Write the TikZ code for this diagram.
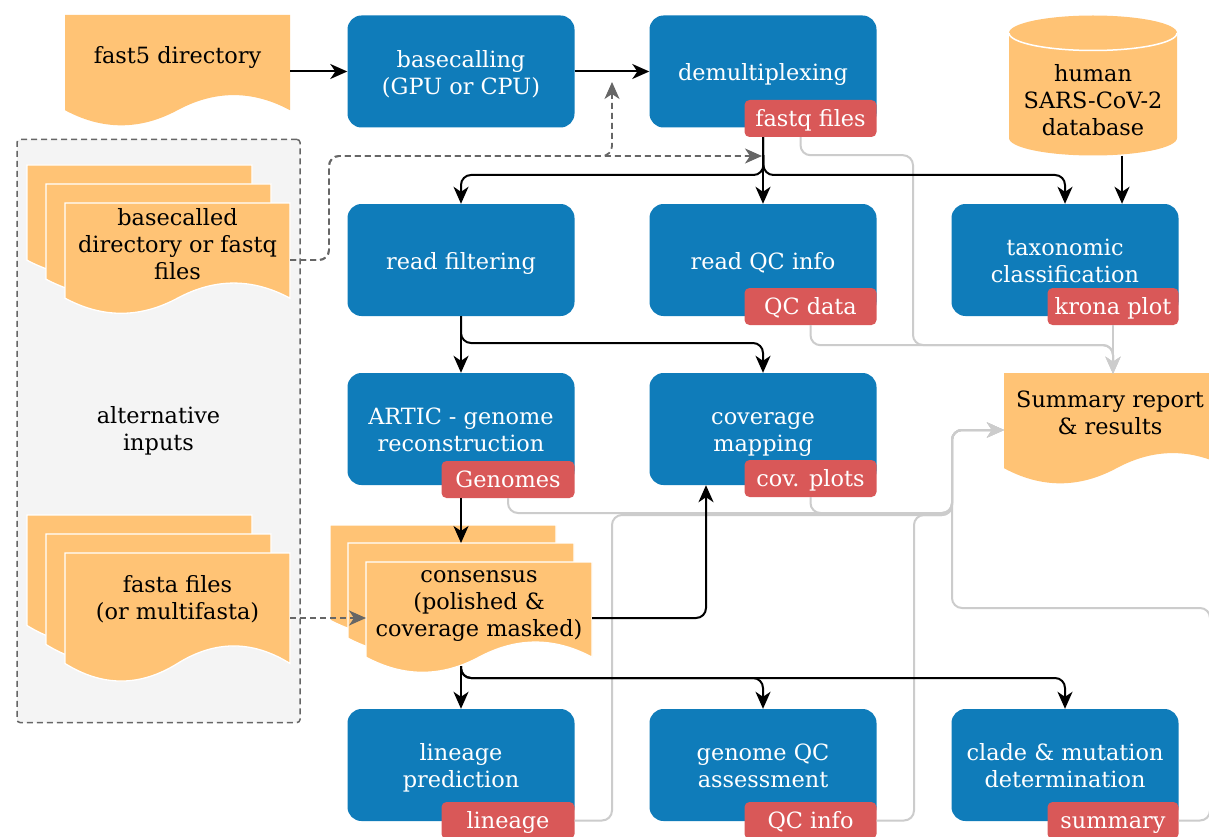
\documentclass[tikz,border=0pt]{standalone}
\usepackage{fontspec}
\setmainfont{DejaVu Serif}
\usetikzlibrary{arrows.meta,calc}
\definecolor{boxblue}{HTML}{0F7CBA}
\definecolor{tagred}{HTML}{D95858}
\definecolor{docorange}{HTML}{FFC375}
\definecolor{panelgray}{HTML}{F4F4F4}
\definecolor{linegray}{HTML}{CCCCCC}
\definecolor{dashgray}{HTML}{666666}
\newcommand\docpage[5][]{%
  \path[fill=docorange,#1] (#2,#3) -- (#2+#4,#3) -- (#2+#4,#3+0.85*#5)
    .. controls (#2+0.8333*#4,#3+0.67*#5) and (#2+0.6667*#4,#3+0.67*#5) .. (#2+0.5*#4,#3+0.85*#5)
    .. controls (#2+0.3333*#4,#3+1.03*#5) and (#2+0.1667*#4,#3+1.03*#5) .. (#2,#3+0.85*#5) -- cycle;}
\newcommand\mlines[1]{\raisebox{-4pt}[\height][\depth]{\begin{tabular}{@{}c@{}}#1\end{tabular}}}
\tikzset{
  every node/.style={font=\fontsize{22.4}{27}\selectfont},
  proc/.style={fill=boxblue, rounded corners=14pt, minimum width=227pt, minimum height=112pt, inner sep=0pt, text=white, align=center},
  tag/.style={fill=tagred, rounded corners=5pt, minimum width=132pt, minimum height=37pt, inner sep=0pt, text=white, anchor=south east, text height=19pt, text depth=3pt},
  doctext/.style={inner sep=0pt, align=center, text=black},
  tip/.style={-{Stealth[length=17pt,width=15pt,inset=5pt]}},
  arr/.style={draw=black, line width=2pt, tip},
  garr/.style={draw=linegray, line width=2pt, rounded corners=10pt, tip},
  darr/.style={draw=dashgray, line width=1.8pt, dash pattern=on 6pt off 4pt, tip},
  stacked/.style={draw=white, line width=1.3pt},
}
\begin{document}
\begin{tikzpicture}[x=1pt, y=-1pt]
\path[use as bounding box, clip] (0,0) rectangle (1209,837);
\fill[white] (0,0) rectangle (1209,837);

% alternative inputs panel
\node[draw=dashgray, line width=1.5pt, dash pattern=on 6pt off 4pt, fill=panelgray, rounded corners=3pt,
      minimum width=283pt, minimum height=583pt, align=center, inner sep=0pt] (alt) at (158.5,431) {alternative\\inputs};

% document shapes
\docpage{65}{15}{225}{112}
\node[doctext, minimum width=225pt, minimum height=80pt] (fast5) at (177.5,57) {fast5 directory};

\docpage[stacked]{27}{165}{225}{112}
\docpage[stacked]{46}{184}{225}{112}
\docpage[stacked]{65}{203}{225}{112}
\node[doctext, minimum width=225pt] (bcd) at (177.5,244) {basecalled\\directory or fastq\\files};

\docpage[stacked]{27}{515}{225}{130}
\docpage[stacked]{46}{534}{225}{130}
\docpage[stacked]{65}{553}{225}{130}
\node[doctext, minimum width=225pt] (fst) at (177.5,599) {fasta files\\(or multifasta)};

\docpage[stacked]{330}{525}{226}{112}
\docpage[stacked]{348}{543}{226}{112}
\docpage[stacked]{366}{562}{226}{112}
\node[doctext, minimum width=226pt] (cons) at (479,606) {consensus\\(polished \&\\coverage masked)};
\coordinate (consmid) at (461,543);
\coordinate (consbot) at (461,666);
\coordinate (split3) at (461,678);

\docpage{1004}{373}{225}{112}
\node[doctext, minimum width=212pt, minimum height=78pt] (summ) at (1110,413) {Summary report\\\& results};
\coordinate (summin) at (1004,430);

% database cylinder
\fill[docorange] (1009,33) -- (1009,138) arc[start angle=180, end angle=0, x radius=84, y radius=17.5]
  -- (1177,33) arc[start angle=0, end angle=-180, x radius=84, y radius=17.5] -- cycle;
\draw[white, line width=1.5pt] (1009,33) arc[start angle=180, end angle=0, x radius=84, y radius=17.5];
\node[doctext, minimum width=168pt, minimum height=110pt] (db) at (1093,100.5) {human\\SARS-CoV-2\\database};

% process boxes
\node[proc] (basecall) at (461,71.5) {\mlines{basecalling\\(GPU or CPU)}};
\node[proc] (demux) at (763,71.5) {\mlines{demultiplexing}};
\node[proc] (readfilt) at (461,260) {\mlines{read filtering}};
\node[proc] (readqc) at (763,260) {\mlines{read QC info}};
\node[proc] (taxo) at (1065,260) {\mlines{taxonomic\\classification}};
\node[proc] (artic) at (461,429) {\mlines{ARTIC - genome\\reconstruction}};
\node[proc] (covmap) at (763,429) {\mlines{coverage\\mapping}};
\node[proc] (lineage) at (461,765) {\mlines{lineage\\prediction}};
\node[proc] (gqc) at (763,765) {\mlines{genome QC\\assessment}};
\node[proc] (clade) at (1065,765) {\mlines{clade \& mutation\\determination}};

% tags
\node[tag] (fqtag) at ([yshift=-9.5pt]demux.south east) {fastq files};
\node[tag] (qctag) at ([yshift=-9pt]readqc.south east) {QC data};
\node[tag, minimum width=131pt] (kronatag) at ([yshift=-9pt]taxo.south east) {krona plot};
\node[tag, minimum width=133pt] (gentag) at ([yshift=-13pt]artic.south east) {Genomes};
\node[tag] (covtag) at ([yshift=-12pt]covmap.south east) {cov. plots};
\node[tag, minimum width=133pt] (lintag) at ([yshift=-18pt]lineage.south east) {lineage};
\node[tag] (qcitag) at ([yshift=-18pt]gqc.south east) {QC info};
\node[tag, minimum width=131pt] (sumtag) at ([yshift=-18pt]clade.south east) {summary};

\coordinate (split1) at (763.5,175);
\coordinate (split2) at (461,343);
\coordinate (bcdemux) at (612,82);
\coordinate (demuxin) at (762,156);

% gray result connectors
\draw[garr] ([xshift=-10pt]fqtag.south) -- ++(0,18) -| (913,345) -| (kronatag.south |- summ.north);
\draw[garr] (qctag.south) |- ($(kronatag.south)+(0,20)$) -- (kronatag.south |- summ.north);
\draw[garr] (kronatag.south) -- (kronatag.south |- summ.north);
\draw[garr] (gentag.south) |- (952,513) -- (952,430) -- (summin);
\draw[garr] (covtag.south) |- (952,513) -- (952,430) -- (summin);
\draw[garr] (lintag.east) -| (612,515) -| (952,430) -- (summin);
\draw[garr] (qcitag.east) -| (914,515) -| (952,430) -- (summin);
\draw[garr] (sumtag.east) -| (1210,608) -| (952,430) -- (summin);

% black connectors
\draw[arr] (fast5.east |- basecall.west) -- (basecall.west);
\draw[arr] (basecall.east) -- (demux.west);
\draw[arr] (demux.south |- fqtag.south) -- (readqc.north);
\draw[arr, rounded corners=10pt] (demux.south |- fqtag.south) -- (split1) -| (readfilt.north);
\draw[arr, rounded corners=10pt] (demux.south |- fqtag.south) -- (split1) -| (taxo.north);
\draw[arr] ([xshift=29pt]db.south) -- ([xshift=57pt]taxo.north);
\draw[arr] (readfilt.south) -- (artic.north);
\draw[arr, rounded corners=10pt] (readfilt.south) -- (split2) -| (covmap.north);
\draw[arr] (artic.south |- gentag.south) -- (consmid);
\draw[arr, rounded corners=10pt] (592,618) -| ([xshift=-57pt]covmap.south);
\draw[arr] (consbot) -- (lineage.north);
\draw[arr, rounded corners=10pt] (consbot) -- (split3) -| (gqc.north);
\draw[arr, rounded corners=10pt] (consbot) -- (split3) -| (clade.north);

% dashed alternative-input connectors
\draw[darr, rounded corners=10pt] (290,260) -| (329,156) -| (bcdemux);
\draw[darr, rounded corners=10pt] (290,260) -| (329,156) -- (demuxin);
\draw[darr] (290,618) -- (366,618);
\end{tikzpicture}
\end{document}
